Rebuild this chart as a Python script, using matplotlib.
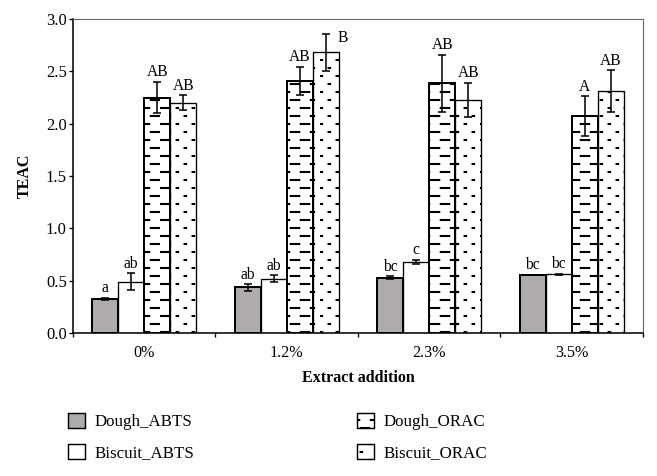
import numpy as np
import matplotlib
matplotlib.use("Agg")
import matplotlib.pyplot as plt
import matplotlib.hatch as mhatch
from matplotlib.patches import Patch

groups = ["0%", "1.2%", "2.3%", "3.5%"]
series = ["Dough_ABTS", "Biscuit_ABTS", "Dough_ORAC", "Biscuit_ORAC"]

dough_abts = [0.325, 0.435, 0.53, 0.555]
biscuit_abts = [0.49, 0.52, 0.68, 0.563]
dough_orac = [2.25, 2.41, 2.385, 2.07]
biscuit_orac = [2.20, 2.68, 2.225, 2.31]

dough_abts_err = [0.01, 0.03, 0.01, 0.0]
biscuit_abts_err = [0.08, 0.03, 0.02, 0.005]
dough_orac_err = [0.15, 0.135, 0.27, 0.19]
biscuit_orac_err = [0.07, 0.18, 0.165, 0.20]

dough_abts_lab = ["a", "ab", "bc", "bc"]
biscuit_abts_lab = ["ab", "ab", "c", "bc"]
dough_orac_lab = ["AB", "AB", "AB", "A"]
biscuit_orac_lab = ["AB", "B", "AB", "AB"]


# dashed / dotted fill patterns like the original figure
class DashRows(mhatch.HatchPatternBase):
    char = "-"
    nrows = 10
    ncols = 4
    frac = 0.42

    def __init__(self, hatch, density):
        self.rows = hatch.count(self.char) * self.nrows
        self.num_vertices = self.rows * self.ncols * 2

    def set_vertices_and_codes(self, vertices, codes):
        p = 1.0 / self.ncols
        k = 0
        for r in range(self.rows):
            y = (r + 0.5) / self.rows
            shift = 0.5 * p * (r % 2)
            for c in range(self.ncols):
                x0 = c * p + shift + 0.04 * p
                vertices[k] = (x0, y)
                vertices[k + 1] = (x0 + self.frac * p, y)
                codes[k] = 1
                codes[k + 1] = 2
                k += 2


class DotRows(DashRows):
    char = "."
    nrows = 10
    ncols = 5
    frac = 0.09


mhatch._hatch_types = [DashRows if t is mhatch.HorizontalHatch
                       else DotRows if t is mhatch.SmallFilledCircles
                       else t for t in mhatch._hatch_types]

plt.rcParams["font.family"] = ["Liberation Serif", "DejaVu Serif"]
plt.rcParams["hatch.linewidth"] = 1.9

fig = plt.figure(figsize=(657 / 80, 476 / 80), dpi=80)
ax = fig.add_axes([73 / 657, 1 - 333 / 476, 570 / 657, 314 / 476])

values = [dough_abts, biscuit_abts, dough_orac, biscuit_orac]
errors = [dough_abts_err, biscuit_abts_err, dough_orac_err, biscuit_orac_err]
labels = [dough_abts_lab, biscuit_abts_lab, dough_orac_lab, biscuit_orac_lab]
faces = ["#afabab", "white", "white", "white"]
hatches = [None, None, "-", "."]
edge_w = [1.8, 1.2, 1.8, 1.2]

x = np.arange(len(groups)) + 0.5
w = 0.1825
handles = []
for i in range(4):
    pos = x + (i - 1.5) * w
    ax.bar(pos, values[i], w, color=faces[i], edgecolor="black",
           linewidth=edge_w[i], hatch=hatches[i], zorder=2,
           yerr=errors[i], capsize=3.2,
           error_kw=dict(elinewidth=1.4, capthick=1.4, ecolor="black", zorder=3))
    for j in range(len(groups)):
        top = values[i][j] + errors[i][j]
        if i == 3 and j == 1:
            ax.text(pos[j] + w * 0.45, top - 0.04, labels[i][j], ha="left",
                    va="center", fontsize=14)
        else:
            ax.text(pos[j], top + 0.055, labels[i][j], ha="center",
                    va="baseline", fontsize=14)
    handles.append(Patch(facecolor=faces[i], edgecolor="black", linewidth=1.3,
                         hatch=hatches[i], label=series[i]))

ax.set_xlim(0, 4)
ax.set_ylim(0, 3.0)
ax.set_yticks(np.arange(0, 3.01, 0.5))
ax.set_yticklabels([f"{v:.1f}" for v in np.arange(0, 3.01, 0.5)])
ax.set_xticks(np.arange(0, 5))
ax.set_xticklabels([])
ax.set_xticks(x, minor=True)
ax.set_xticklabels(groups, minor=True)
ax.tick_params(axis="x", which="minor", length=0, pad=10.5, labelsize=14.5)
ax.tick_params(axis="x", which="major", length=4, width=1.2, direction="out")
ax.tick_params(axis="y", length=3.6, width=1.2, pad=2, labelsize=15)

for s in ["left", "bottom"]:
    ax.spines[s].set_linewidth(1.4)
    ax.spines[s].set_color("black")
for s in ["top", "right"]:
    ax.spines[s].set_linewidth(1.0)
    ax.spines[s].set_color("#666666")

ax.set_ylabel("TEAC", fontsize=14.4, fontweight="bold", labelpad=12)
ax.set_xlabel("Extract addition", fontsize=14.4, fontweight="bold", labelpad=8)

fig.legend(handles=handles,
           loc="upper left", bbox_to_anchor=(68 / 657, 1 - 413 / 476),
           ncol=2, frameon=False, fontsize=15.2, handlelength=1.0,
           handleheight=1.0, handletextpad=0.6, columnspacing=9.6,
           labelspacing=0.8, borderpad=0, borderaxespad=0)

fig.savefig("out.png", dpi=80)
